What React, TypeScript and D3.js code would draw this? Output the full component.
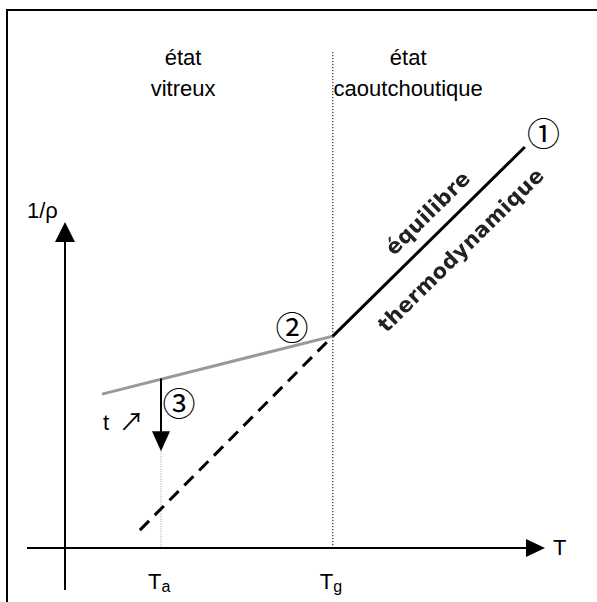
import React from "react";
import * as d3 from "d3";

// Temperature positions (arbitrary units) and specific volume 1/ρ
const Ta = 2.0;
const Tg = 5.58;
const equilibriumSolid = [
  { T: Tg, v: 6.5 },
  { T: 9.58, v: 12.3 },
];
const equilibriumDashed = [
  { T: 1.56, v: 0.55 },
  { T: Tg, v: 6.5 },
];
const glassLine = [
  { T: 0.77, v: 4.72 },
  { T: Tg, v: 6.5 },
];
const ageingArrow = { T: Ta, from: 5.2, to: 2.97 };
const regionLabels = [
  { T: 2.46, lines: ["état", "vitreux"] },
  { T: 7.15, lines: ["état", "caoutchoutique"] },
];
const markers = [
  { label: "①", T: 9.97, v: 12.75 },
  { label: "②", T: 4.73, v: 6.8 },
  { label: "③", T: 2.375, v: 4.47 },
];

const W = 597;
const H = 602;

export default function App() {
  const x = d3.scaleLinear().domain([0, 10]).range([65, 545]);
  const y = d3.scaleLinear().domain([0, 10]).range([548, 222]);
  const line = d3
    .line<{ T: number; v: number }>()
    .x((d) => x(d.T))
    .y((d) => y(d.v));

  const font = "'Liberation Sans', Arial, sans-serif";
  const circ = "'Noto Sans CJK JP', 'DejaVu Sans', sans-serif";
  const heavy = "'DejaVu Sans', Verdana, sans-serif";

  const x0 = x(0);
  const y0 = y(0);
  const solidAngle =
    (Math.atan2(
      y(equilibriumSolid[1].v) - y(equilibriumSolid[0].v),
      x(equilibriumSolid[1].T) - x(equilibriumSolid[0].T)
    ) *
      180) /
    Math.PI;

  const arrowX = x(ageingArrow.T);
  const arrowTop = y(ageingArrow.from);
  const arrowTip = y(ageingArrow.to);

  return (
    <svg
      width={W}
      height={H}
      style={{ position: "absolute", left: 0, top: 0, background: "#fff" }}
    >
      <defs>
        <filter id="soft" x="-10%" y="-10%" width="120%" height="120%">
          <feGaussianBlur stdDeviation="0.6" />
        </filter>
      </defs>
      {/* frame */}
      <path d={`M7,${H} V10 H${W}`} fill="none" stroke="#000" strokeWidth={2} />

      {/* Tg divider */}
      <line
        x1={x(Tg)}
        x2={x(Tg)}
        y1={52}
        y2={y0}
        stroke="#000"
        strokeWidth={1}
        strokeDasharray="1.2,1.8"
      />
      {/* Ta guide */}
      <line
        x1={arrowX}
        x2={arrowX}
        y1={arrowTip}
        y2={y0}
        stroke="#999"
        strokeWidth={1}
        strokeDasharray="1,1.5"
      />

      {/* axes */}
      <line x1={27} x2={x(10) - 16} y1={y0} y2={y0} stroke="#000" strokeWidth={2} />
      <path d={`M${x(10)},${y0} L${x(10) - 19},${y0 - 9} L${x(10) - 19},${y0 + 9} Z`} fill="#000" />
      <line x1={x0} x2={x0} y1={590} y2={y(10) + 16} stroke="#000" strokeWidth={2} />
      <path d={`M${x0},${y(10)} L${x0 - 10},${y(10) + 20} L${x0 + 10},${y(10) + 20} Z`} fill="#000" />

      <text x={27} y={y(10) - 4} fontFamily={font} fontSize={22}>
        1/ρ
      </text>
      <text x={x(10) + 8} y={y0 + 7} fontFamily={font} fontSize={22}>
        T
      </text>

      {/* temperature tick labels */}
      <text x={arrowX - 13} y={y0 + 41} fontFamily={font} fontSize={22}>
        T<tspan fontSize={16} dy={3}>a</tspan>
      </text>
      <text x={x(Tg) - 13} y={y0 + 41} fontFamily={font} fontSize={22}>
        T<tspan fontSize={16} dy={3}>g</tspan>
      </text>

      {/* region labels */}
      {regionLabels.map((r, i) => (
        <text key={i} x={x(r.T)} y={65} textAnchor="middle" fontFamily={font} fontSize={22}>
          {r.lines.map((l, j) => (
            <tspan key={j} x={x(r.T)} dy={j === 0 ? 0 : 31}>
              {l}
            </tspan>
          ))}
        </text>
      ))}

      {/* curves */}
      <path d={line(glassLine) ?? ""} fill="none" stroke="#999" strokeWidth={3} />
      <path
        d={line(equilibriumDashed) ?? ""}
        fill="none"
        stroke="#000"
        strokeWidth={3}
        strokeDasharray="13,8"
      />
      <path d={line(equilibriumSolid) ?? ""} fill="none" stroke="#000" strokeWidth={3} />

      {/* physical ageing arrow */}
      <line x1={arrowX} x2={arrowX} y1={arrowTop} y2={arrowTip - 18} stroke="#000" strokeWidth={2} />
      <path
        d={`M${arrowX},${arrowTip} L${arrowX - 9},${arrowTip - 20} L${arrowX + 9},${arrowTip - 20} Z`}
        fill="#000"
      />
      <text x={103} y={430} fontFamily={font} fontSize={22}>
        t
      </text>
      <text x={119} y={431} fontFamily={circ} fontSize={25}>
        ↗
      </text>

      {/* markers */}
      {markers.map((m, i) => (
        <text
          key={i}
          x={x(m.T)}
          y={y(m.v)}
          textAnchor="middle"
          dominantBaseline="central"
          fontFamily={circ}
          fontSize={33}
        >
          {m.label}
        </text>
      ))}

      {/* rotated annotation along the equilibrium line */}
      <g filter="url(#soft)">
        <text
          transform={`translate(428,213) rotate(${solidAngle})`}
          textAnchor="middle"
          dominantBaseline="central"
          fontFamily={heavy}
          fontWeight="bold"
          fontSize={21}
          letterSpacing={0.4}
          fill="#222"
        >
          équilibre
        </text>
        <text
          transform={`translate(461,250) rotate(${solidAngle})`}
          textAnchor="middle"
          dominantBaseline="central"
          fontFamily={heavy}
          fontWeight="bold"
          fontSize={21}
          letterSpacing={0.4}
          fill="#222"
        >
          thermodynamique
        </text>
      </g>
    </svg>
  );
}
